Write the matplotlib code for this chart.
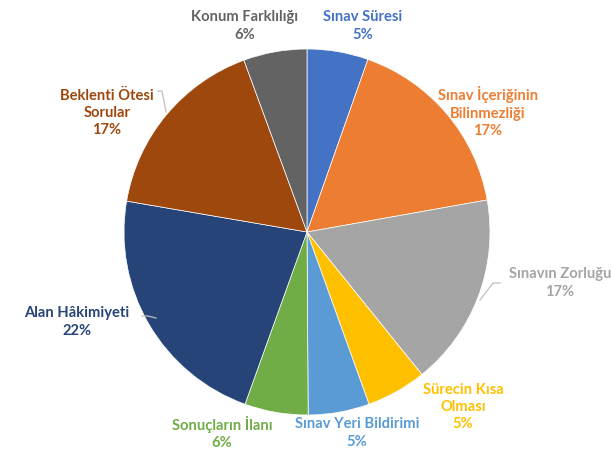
import matplotlib
matplotlib.use("Agg")
import matplotlib.pyplot as plt

# dilimler: saat yönünde, tepeden başlayarak
kategoriler = ["Sınav Süresi", "Sınav İçeriğinin\nBilinmezliği", "Sınavın Zorluğu",
               "Sürecin Kısa\nOlması", "Sınav Yeri Bildirimi", "Sonuçların İlanı",
               "Alan Hâkimiyeti", "Beklenti Ötesi\nSorular", "Konum Farklılığı"]
yuzdeler = [5.4, 16.8, 17.0, 5.3, 5.4, 5.6, 22.2, 16.7, 5.6]
renkler = ["#4472C4", "#ED7D31", "#A5A5A5", "#FFC000", "#5B9BD5",
           "#70AD47", "#264478", "#9E480E", "#636363"]

# etiket konumlari (piksel, ust-sol referans)
etiket_xy = [(363, 26), (488, 112), (560, 283), (463, 407), (357, 433),
             (222, 433), (77, 322), (107, 113), (245, 26)]

W, H = 611, 454
fig = plt.figure(figsize=(W / 100, H / 100), dpi=100)
ax = fig.add_axes([0, 0, 1, 1])
ax.set_xlim(0, W)
ax.set_ylim(0, H)
ax.set_aspect("equal")
ax.axis("off")

cx, cy, r = 307, H - 232, 183
ax.pie(yuzdeler, colors=renkler, startangle=90, counterclock=False,
       center=(cx, cy), radius=r,
       wedgeprops=dict(linewidth=0.5, edgecolor="white"))
ax.set_xlim(0, W)
ax.set_ylim(0, H)

for ad, v, c, (x, y) in zip(kategoriler, yuzdeler, renkler, etiket_xy):
    ax.text(x, H - y, "%s\n%d%%" % (ad, round(v)), color=c, ha="center", va="center",
            fontsize=10.6, fontweight="bold", family="Lato", linespacing=1.3)

# kilavuz cizgileri
kc = "#BFBFBF"
ax.plot([158, 162, 166], [H - 91, H - 91, H - 112], color=kc, lw=0.9)
ax.plot([500, 493, 480], [H - 283, H - 283, H - 300], color=kc, lw=0.9)
ax.plot([142, 148, 156], [H - 316, H - 316, H - 318], color=kc, lw=0.9)

fig.savefig("out.png", dpi=100)
